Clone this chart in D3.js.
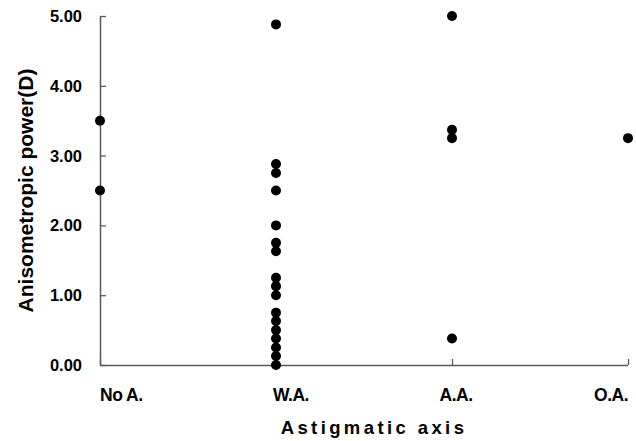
<!DOCTYPE html>
<html>
<head>
<meta charset="utf-8">
<script src="https://cdn.jsdelivr.net/npm/d3@7"></script>
<style>
  body { margin: 0; background: #fff; }
  text { font-family: "Liberation Sans", Arial, sans-serif; font-weight: bold; fill: #000; }
</style>
</head>
<body>
<div id="chart"></div>
<script>
// categories on the x axis
const categories = ['No A.', 'W.A.', 'A.A.', 'O.A.'];
// anisometropic power (D) per category
const noAValues = [3.50, 2.50];
const waValues = [4.88, 2.88, 2.75, 2.50, 2.00, 1.75, 1.63, 1.25, 1.13, 1.00,
                  0.75, 0.63, 0.50, 0.38, 0.25, 0.13, 0.00];
const aaValues = [5.00, 3.37, 3.25, 0.38];
const oaValues = [3.25];
const yTicks = [0, 1, 2, 3, 4, 5];

const groups = [noAValues, waValues, aaValues, oaValues];
const points = [];
groups.forEach((vals, i) => vals.forEach(v => points.push({ cat: i + 1, value: v })));

const width = 636, height = 441;
const margin = { top: 16, right: 8, bottom: 76, left: 100 };

const svg = d3.select('#chart').append('svg')
  .attr('width', width)
  .attr('height', height);

const x = d3.scaleLinear()
  .domain([1, categories.length])
  .range([margin.left, width - margin.right]);

const y = d3.scaleLinear()
  .domain([0, 5])
  .range([height - margin.bottom, margin.top]);

const axisColor = '#5a5a5a';

// y axis (ticks point inwards)
const yAxis = svg.append('g')
  .attr('transform', `translate(${margin.left},0)`)
  .call(d3.axisRight(y).tickValues(yTicks).tickSize(6).tickFormat(''));
yAxis.select('.domain').attr('stroke', axisColor).attr('stroke-width', 1.5).attr('d', `M0.5,${y(5)}V${y(0)}`);
yAxis.selectAll('.tick line').attr('stroke', axisColor).attr('stroke-width', 1.3);

svg.append('g').selectAll('text')
  .data(yTicks)
  .enter()
  .append('text')
  .attr('x', margin.left - 18)
  .attr('y', d => y(d))
  .attr('dy', '0.36em')
  .attr('text-anchor', 'end')
  .style('font-size', '16.5px')
  .text(d => d3.format('.2f')(d));

// x axis (ticks point inwards)
const xAxis = svg.append('g')
  .attr('transform', `translate(0,${y(0)})`)
  .call(d3.axisTop(x).tickValues([1, 2, 3, 4]).tickSize(6).tickFormat(''));
xAxis.select('.domain').attr('stroke', axisColor).attr('stroke-width', 1.5).attr('d', `M${x(1)},0.5H${x(4)}`);
xAxis.selectAll('.tick line').attr('stroke', axisColor).attr('stroke-width', 1.3);

// category labels
const anchors = ['start', 'start', 'middle', 'end'];
svg.append('g').selectAll('text')
  .data(categories)
  .enter()
  .append('text')
  .attr('x', (d, i) => x(i + 1) + (i === 1 ? -3 : i === 2 ? 4 : 0))
  .attr('y', y(0) + 36)
  .attr('text-anchor', (d, i) => anchors[i])
  .style('font-size', '17.5px')
  .style('letter-spacing', '-0.5px')
  .text(d => d);

// points
svg.append('g').selectAll('circle')
  .data(points)
  .enter()
  .append('circle')
  .attr('cx', d => x(d.cat))
  .attr('cy', d => y(d.value))
  .attr('r', 5)
  .attr('fill', '#000');

// axis titles
svg.append('text')
  .attr('x', 374)
  .attr('y', 434)
  .attr('text-anchor', 'middle')
  .style('font-size', '18.5px')
  .style('letter-spacing', '3.4px')
  .text('Astigmatic axis');

svg.append('text')
  .attr('transform', `translate(33,${(y(0) + y(5)) / 2}) rotate(-90)`)
  .attr('text-anchor', 'middle')
  .style('font-size', '21px')
  .text('Anisometropic power(D)');
</script>
</body>
</html>
